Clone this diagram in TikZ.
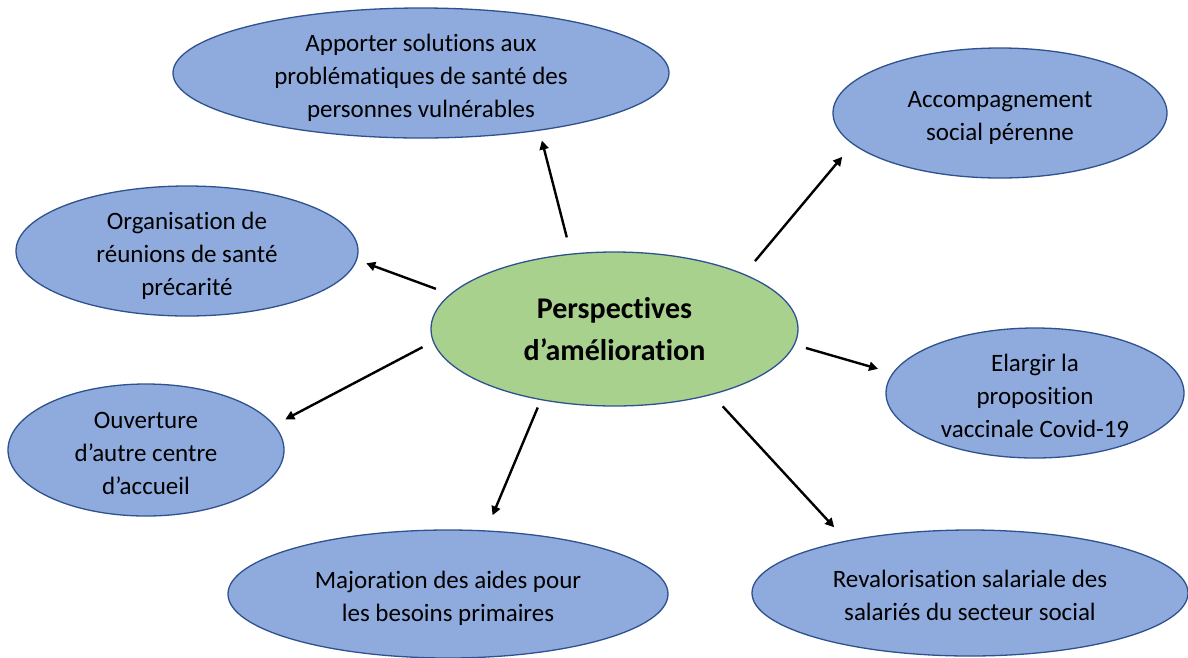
\documentclass[tikz,border=0pt]{standalone}
\usepackage{fontspec}
\setmainfont{Carlito}[Ligatures=NoCommon]
\usetikzlibrary{shapes.geometric,arrows.meta}
\definecolor{bfill}{HTML}{8FAADC}
\definecolor{bline}{HTML}{2F528F}
\definecolor{gfill}{HTML}{A9D18E}
\newcommand{\leaftext}[1]{\begin{tabular}{@{}c@{}}\rule{0pt}{32pt}#1\end{tabular}}
\begin{document}
\begin{tikzpicture}[x=1pt,y=-1pt,
  leaf/.style={ellipse, draw=bline, line width=1.3pt, fill=bfill, inner sep=-10pt,
    font=\fontsize{25}{33}\selectfont},
  hub/.style={ellipse, draw=bline, line width=1.3pt, fill=gfill, inner sep=-10pt,
    align=center, font=\bfseries\fontsize{30}{42}\selectfont},
  arr/.style={line width=2.4pt, -{Triangle[length=9pt,width=9pt]}}]
\useasboundingbox (0,0) rectangle (1188,657);
\fill[white] (0,0) rectangle (1188,657);
\node[hub, minimum width=367pt, minimum height=154pt] (c) at (614.5,329) {Perspectives\\d’amélioration};
\node[leaf, minimum width=496pt, minimum height=130pt] (top) at (421,73) {\leaftext{Apporter solutions aux\\problématiques de santé des\\personnes vulnérables}};
\node[leaf, minimum width=334pt, minimum height=130pt] (acc) at (1000,113) {\leaftext{Accompagnement\\social pérenne}};
\node[leaf, minimum width=342pt, minimum height=130pt] (org) at (187,251) {\leaftext{Organisation de\\réunions de santé\\précarité}};
\node[leaf, minimum width=298pt, minimum height=130pt] (ela) at (1035,393) {\leaftext{Elargir la\\proposition\\vaccinale Covid-19}};
\node[leaf, minimum width=276pt, minimum height=132pt] (ouv) at (146,450) {\leaftext{Ouverture\\d’autre centre\\d’accueil}};
\node[leaf, minimum width=440pt, minimum height=128pt] (maj) at (448,594) {\leaftext{Majoration des aides pour\\les besoins primaires}};
\node[leaf, minimum width=436pt, minimum height=126pt] (rev) at (970,593) {\leaftext{Revalorisation salariale des\\salariés du secteur social}};
\draw[arr, shorten <=16.7pt, shorten >=10.1pt] (c.120) -- (top.-26);
\draw[arr, shorten <=16.7pt, shorten >=16.3pt] (c.23.5) -- (acc.192.8);
\draw[arr, shorten <=15.1pt, shorten >=9.8pt] (c.168.9) -- (org.-3.6);
\draw[arr, shorten <=11.6pt, shorten >=15pt] (c.-5.4) -- (ela.172.5);
\draw[arr, shorten <=11.7pt, shorten >=12.2pt] (c.184.7) -- (ouv.11.3);
\draw[arr, shorten <=8pt, shorten >=16.3pt] (c.224.3) -- (maj.59.2);
\draw[arr, shorten <=15.6pt, shorten >=18pt] (c.-34) -- (rev.157.7);
\end{tikzpicture}
\end{document}
